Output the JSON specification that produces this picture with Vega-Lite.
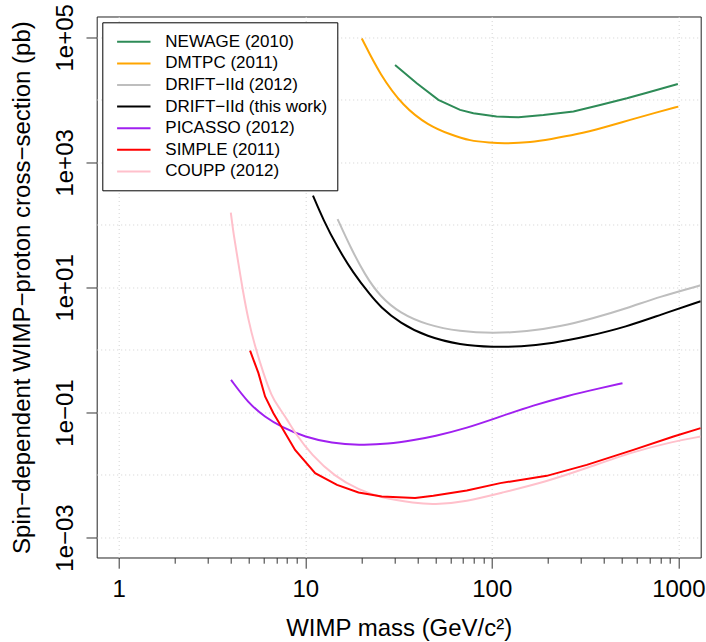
{
  "$schema": "https://vega.github.io/schema/vega-lite/v6.json",
  "width": 604,
  "height": 541,
  "autosize": {"type": "none"},
  "padding": {"left": 96.7, "top": 16.5, "right": 5.3, "bottom": 84.3},
  "background": "white",
  "config": {"view": {"stroke": "#222", "strokeWidth": 1}, "font": "Liberation Sans"},
  "data": {"values": [
    {"s": "NEWAGE (2010)", "m": 30.3, "xs": 36000},
    {"s": "NEWAGE (2010)", "m": 39.6, "xs": 18400},
    {"s": "NEWAGE (2010)", "m": 51.7, "xs": 10000},
    {"s": "NEWAGE (2010)", "m": 67.6, "xs": 6900},
    {"s": "NEWAGE (2010)", "m": 79.7, "xs": 6100},
    {"s": "NEWAGE (2010)", "m": 106, "xs": 5400},
    {"s": "NEWAGE (2010)", "m": 139, "xs": 5260},
    {"s": "NEWAGE (2010)", "m": 189, "xs": 5700},
    {"s": "NEWAGE (2010)", "m": 274, "xs": 6500},
    {"s": "NEWAGE (2010)", "m": 381, "xs": 8300},
    {"s": "NEWAGE (2010)", "m": 530, "xs": 10600},
    {"s": "NEWAGE (2010)", "m": 678, "xs": 13000},
    {"s": "NEWAGE (2010)", "m": 994, "xs": 17900},
    {"s": "DMTPC (2011)", "m": 20.1, "xs": 96000},
    {"s": "DMTPC (2011)", "m": 25.2, "xs": 25000},
    {"s": "DMTPC (2011)", "m": 33.6, "xs": 7800},
    {"s": "DMTPC (2011)", "m": 45.7, "xs": 3900},
    {"s": "DMTPC (2011)", "m": 59.8, "xs": 2800},
    {"s": "DMTPC (2011)", "m": 76.5, "xs": 2200},
    {"s": "DMTPC (2011)", "m": 98, "xs": 2070},
    {"s": "DMTPC (2011)", "m": 115, "xs": 1990},
    {"s": "DMTPC (2011)", "m": 164, "xs": 2100},
    {"s": "DMTPC (2011)", "m": 205, "xs": 2340},
    {"s": "DMTPC (2011)", "m": 286, "xs": 2800},
    {"s": "DMTPC (2011)", "m": 397, "xs": 3600},
    {"s": "DMTPC (2011)", "m": 552, "xs": 4800},
    {"s": "DMTPC (2011)", "m": 767, "xs": 6300},
    {"s": "DMTPC (2011)", "m": 1000, "xs": 7800},
    {"s": "DRIFT−IId (2012)", "m": 14.9, "xs": 124},
    {"s": "DRIFT−IId (2012)", "m": 17.4, "xs": 44.9},
    {"s": "DRIFT−IId (2012)", "m": 20.9, "xs": 15.8},
    {"s": "DRIFT−IId (2012)", "m": 25.2, "xs": 7.13},
    {"s": "DRIFT−IId (2012)", "m": 32.2, "xs": 3.87},
    {"s": "DRIFT−IId (2012)", "m": 44.8, "xs": 2.51},
    {"s": "DRIFT−IId (2012)", "m": 67.6, "xs": 1.96},
    {"s": "DRIFT−IId (2012)", "m": 102, "xs": 1.85},
    {"s": "DRIFT−IId (2012)", "m": 154, "xs": 1.96},
    {"s": "DRIFT−IId (2012)", "m": 232, "xs": 2.36},
    {"s": "DRIFT−IId (2012)", "m": 351, "xs": 3.22},
    {"s": "DRIFT−IId (2012)", "m": 530, "xs": 4.65},
    {"s": "DRIFT−IId (2012)", "m": 798, "xs": 7.13},
    {"s": "DRIFT−IId (2012)", "m": 1318, "xs": 10.8},
    {"s": "DRIFT−IId (this work)", "m": 11.0, "xs": 294},
    {"s": "DRIFT−IId (this work)", "m": 12.5, "xs": 120},
    {"s": "DRIFT−IId (this work)", "m": 14.8, "xs": 44.9},
    {"s": "DRIFT−IId (this work)", "m": 18.1, "xs": 16.9},
    {"s": "DRIFT−IId (this work)", "m": 22.3, "xs": 7.59},
    {"s": "DRIFT−IId (this work)", "m": 25.2, "xs": 4.93},
    {"s": "DRIFT−IId (this work)", "m": 32.2, "xs": 2.68},
    {"s": "DRIFT−IId (this work)", "m": 44.8, "xs": 1.63},
    {"s": "DRIFT−IId (this work)", "m": 67.6, "xs": 1.2},
    {"s": "DRIFT−IId (this work)", "m": 102, "xs": 1.11},
    {"s": "DRIFT−IId (this work)", "m": 142, "xs": 1.13},
    {"s": "DRIFT−IId (this work)", "m": 214, "xs": 1.28},
    {"s": "DRIFT−IId (this work)", "m": 323, "xs": 1.63},
    {"s": "DRIFT−IId (this work)", "m": 530, "xs": 2.36},
    {"s": "DRIFT−IId (this work)", "m": 798, "xs": 3.63},
    {"s": "DRIFT−IId (this work)", "m": 1318, "xs": 6.0},
    {"s": "PICASSO (2012)", "m": 4.0, "xs": 0.332},
    {"s": "PICASSO (2012)", "m": 4.95, "xs": 0.141},
    {"s": "PICASSO (2012)", "m": 6.09, "xs": 0.0841},
    {"s": "PICASSO (2012)", "m": 7.48, "xs": 0.0582},
    {"s": "PICASSO (2012)", "m": 9.98, "xs": 0.0403},
    {"s": "PICASSO (2012)", "m": 13.9, "xs": 0.0323},
    {"s": "PICASSO (2012)", "m": 19.3, "xs": 0.030},
    {"s": "PICASSO (2012)", "m": 27.9, "xs": 0.0311},
    {"s": "PICASSO (2012)", "m": 38.8, "xs": 0.0365},
    {"s": "PICASSO (2012)", "m": 48.6, "xs": 0.0412},
    {"s": "PICASSO (2012)", "m": 73.5, "xs": 0.0561},
    {"s": "PICASSO (2012)", "m": 111, "xs": 0.0859},
    {"s": "PICASSO (2012)", "m": 167, "xs": 0.13},
    {"s": "PICASSO (2012)", "m": 253, "xs": 0.184},
    {"s": "PICASSO (2012)", "m": 381, "xs": 0.245},
    {"s": "PICASSO (2012)", "m": 502, "xs": 0.294},
    {"s": "SIMPLE (2011)", "m": 5.06, "xs": 0.977},
    {"s": "SIMPLE (2011)", "m": 5.61, "xs": 0.425},
    {"s": "SIMPLE (2011)", "m": 6.09, "xs": 0.18},
    {"s": "SIMPLE (2011)", "m": 6.75, "xs": 0.0975},
    {"s": "SIMPLE (2011)", "m": 7.48, "xs": 0.0582},
    {"s": "SIMPLE (2011)", "m": 8.82, "xs": 0.0252},
    {"s": "SIMPLE (2011)", "m": 11.3, "xs": 0.0107},
    {"s": "SIMPLE (2011)", "m": 14.8, "xs": 0.00695},
    {"s": "SIMPLE (2011)", "m": 19.3, "xs": 0.00524},
    {"s": "SIMPLE (2011)", "m": 25.7, "xs": 0.00452},
    {"s": "SIMPLE (2011)", "m": 38.8, "xs": 0.00427},
    {"s": "SIMPLE (2011)", "m": 48.6, "xs": 0.00465},
    {"s": "SIMPLE (2011)", "m": 73.5, "xs": 0.00564},
    {"s": "SIMPLE (2011)", "m": 111, "xs": 0.00741},
    {"s": "SIMPLE (2011)", "m": 197, "xs": 0.00969},
    {"s": "SIMPLE (2011)", "m": 323, "xs": 0.0145},
    {"s": "SIMPLE (2011)", "m": 574, "xs": 0.0252},
    {"s": "SIMPLE (2011)", "m": 942, "xs": 0.0412},
    {"s": "SIMPLE (2011)", "m": 1318, "xs": 0.0561},
    {"s": "COUPP (2012)", "m": 3.99, "xs": 157},
    {"s": "COUPP (2012)", "m": 4.12, "xs": 73.6},
    {"s": "COUPP (2012)", "m": 4.38, "xs": 24.4},
    {"s": "COUPP (2012)", "m": 4.62, "xs": 9.1},
    {"s": "COUPP (2012)", "m": 4.95, "xs": 3.02},
    {"s": "COUPP (2012)", "m": 5.38, "xs": 1.13},
    {"s": "COUPP (2012)", "m": 5.96, "xs": 0.425},
    {"s": "COUPP (2012)", "m": 6.61, "xs": 0.18},
    {"s": "COUPP (2012)", "m": 7.17, "xs": 0.124},
    {"s": "COUPP (2012)", "m": 8.02, "xs": 0.0762},
    {"s": "COUPP (2012)", "m": 8.82, "xs": 0.0467},
    {"s": "COUPP (2012)", "m": 10.8, "xs": 0.021},
    {"s": "COUPP (2012)", "m": 14.4, "xs": 0.00944},
    {"s": "COUPP (2012)", "m": 19.3, "xs": 0.0058},
    {"s": "COUPP (2012)", "m": 25.7, "xs": 0.00427},
    {"s": "COUPP (2012)", "m": 38.8, "xs": 0.00355},
    {"s": "COUPP (2012)", "m": 48.6, "xs": 0.00333},
    {"s": "COUPP (2012)", "m": 73.5, "xs": 0.00377},
    {"s": "COUPP (2012)", "m": 111, "xs": 0.00513},
    {"s": "COUPP (2012)", "m": 197, "xs": 0.00785},
    {"s": "COUPP (2012)", "m": 323, "xs": 0.0129},
    {"s": "COUPP (2012)", "m": 574, "xs": 0.0237},
    {"s": "COUPP (2012)", "m": 942, "xs": 0.0343},
    {"s": "COUPP (2012)", "m": 1318, "xs": 0.0412}
  ]},
  "encoding": {
    "x": {
      "field": "m", "type": "quantitative",
      "scale": {"type": "log", "domain": [0.762, 1318], "nice": false},
      "axis": {
        "title": "WIMP mass (GeV/c²)",
        "values": [1,2,3,4,5,6,7,8,9,10,20,30,40,50,60,70,80,90,100,200,300,400,500,600,700,800,900,1000],
        "labelExpr": "indexof([1,10,100,1000], datum.value) >= 0 ? format(datum.value, 'd') : ''",
        "tickSize": {"condition": {"test": "indexof([1,10,100,1000], datum.value) >= 0", "value": 10.7}, "value": 5.7},
        "grid": true,
        "gridOpacity": {"condition": {"test": "indexof([1,10,100,1000], datum.value) >= 0", "value": 1}, "value": 0},
        "gridColor": "#d3d3d3", "gridDash": [1, 3],
        "domain": false, "tickColor": "#333",
        "labelFont": "Liberation Sans", "labelFontSize": 24, "labelColor": "black",
        "labelPadding": 9, "labelFlush": false, "labelOverlap": false,
        "titleFont": "Liberation Sans", "titleFontSize": 24, "titleFontWeight": "normal", "titleColor": "black",
        "titleBaseline": "alphabetic", "titleAlign": "center", "titleX": 302, "titleY": 78
      }
    },
    "y": {
      "field": "xs", "type": "quantitative",
      "scale": {"type": "log", "domain": [0.000479, 215300], "nice": false},
      "axis": {
        "title": "Spin−dependent WIMP−proton cross−section (pb)",
        "values": [0.001, 0.01, 0.1, 1, 10, 100, 1000, 10000, 100000],
        "labelExpr": "(abs(round(log(datum.value)/LN10)) % 2 == 1) ? ('1e' + (datum.value < 1 ? '−' : '+') + '0' + abs(round(log(datum.value)/LN10))) : ''",
        "tickOpacity": {"condition": {"test": "abs(round(log(datum.value)/LN10)) % 2 == 1", "value": 1}, "value": 0},
        "tickSize": 10.7,
        "grid": true, "gridColor": "#d3d3d3", "gridDash": [1, 3],
        "domain": false, "tickColor": "#333",
        "labelFont": "Liberation Sans", "labelFontSize": 24, "labelColor": "black",
        "labelAngle": 270, "labelAlign": "center", "labelBaseline": "alphabetic",
        "labelPadding": 14, "labelFlush": false, "labelOverlap": false,
        "titleFont": "Liberation Sans", "titleFontSize": 24, "titleFontWeight": "normal", "titleColor": "black",
        "titleAngle": 270, "titleAlign": "center", "titleBaseline": "alphabetic",
        "titleX": -67.2, "titleY": 270.6
      }
    },
    "color": {
      "field": "s", "type": "nominal",
      "scale": {
        "domain": ["NEWAGE (2010)", "DMTPC (2011)", "DRIFT−IId (2012)", "DRIFT−IId (this work)", "PICASSO (2012)", "SIMPLE (2011)", "COUPP (2012)"],
        "range": ["#2E8B57", "#FFA500", "#BEBEBE", "#000000", "#A020F0", "#FF0000", "#FFC0CB"]
      },
      "legend": {
        "orient": "none", "legendX": 5.6, "legendY": 5.8, "title": null,
        "fillColor": "white", "strokeColor": "black", "padding": 10,
        "symbolType": "M-2,0H2", "symbolSize": 279, "symbolStrokeWidth": 2, "symbolOffset": 12,
        "labelFont": "Liberation Sans", "labelFontSize": 17, "labelColor": "black",
        "labelOffset": 22, "rowPadding": 3.6, "labelLimit": 400
      }
    }
  },
  "layer": [
    {
      "transform": [{"filter": {"field": "s", "oneOf": ["DRIFT−IId (2012)", "DRIFT−IId (this work)", "PICASSO (2012)", "COUPP (2012)", "DMTPC (2011)"]}}],
      "mark": {"type": "line", "interpolate": "basis", "strokeWidth": 2, "clip": true}
    },
    {
      "transform": [{"filter": {"field": "s", "oneOf": ["NEWAGE (2010)", "SIMPLE (2011)"]}}],
      "mark": {"type": "line", "strokeWidth": 2, "clip": true}
    }
  ]
}
